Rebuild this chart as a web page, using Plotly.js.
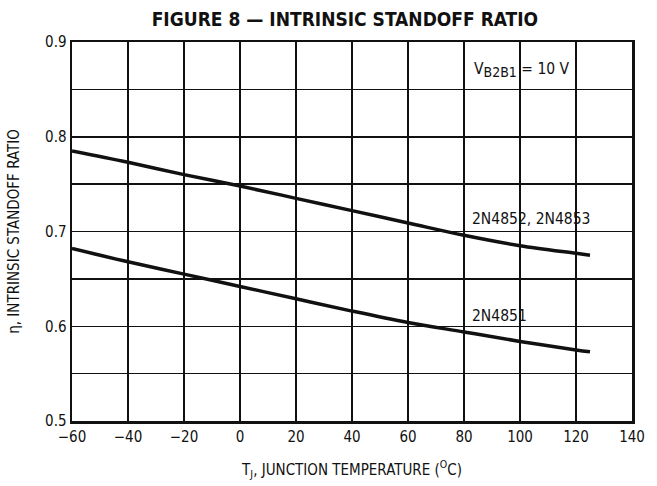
<!DOCTYPE html>
<html>
<head>
<meta charset="utf-8">
<script src="https://cdn.plot.ly/plotly-3.0.1.min.js"></script>
<style>html,body{margin:0;padding:0;background:#fff;}#chart{width:657px;height:486px;}</style>
</head>
<body>
<div id="chart"></div>
<script>
// Data
const tempC = [-60, -40, -20, 0, 20, 40, 60, 80, 100, 120, 125];
const eta_2N4852_2N4853 = [0.785, 0.773, 0.760, 0.748, 0.735, 0.722, 0.709, 0.696, 0.685, 0.677, 0.675];
const eta_2N4851 = [0.682, 0.668, 0.655, 0.642, 0.629, 0.616, 0.604, 0.594, 0.584, 0.575, 0.573];
const xTicks = [-60, -40, -20, 0, 20, 40, 60, 80, 100, 120, 140];
const xTickText = ['\u221260', '\u221240', '\u221220', '0', '20', '40', '60', '80', '100', '120', '140'];
const yTicks = [0.5, 0.6, 0.7, 0.8, 0.9];
const yTickText = ['0.5', '0.6', '0.7', '0.8', '0.9'];
const seriesNames = ['2N4852, 2N4853', '2N4851'];

const FONT = '"Liberation Sans Narrow", "DejaVu Sans Condensed", "Roboto Condensed", "Arial Narrow", sans-serif';

const traces = [
  {x: tempC, y: eta_2N4852_2N4853, name: seriesNames[0], mode: 'lines', line: {color: '#111', width: 3.5, shape: 'spline'}},
  {x: tempC, y: eta_2N4851, name: seriesNames[1], mode: 'lines', line: {color: '#111', width: 3.5, shape: 'spline'}}
];

const layout = {
  width: 657, height: 486,
  margin: {l: 72, r: 25, t: 42, b: 65},
  paper_bgcolor: '#fff', plot_bgcolor: '#fff',
  showlegend: false,
  font: {family: FONT, color: '#111', size: 14},
  title: {text: '<b>FIGURE 8 \u2014 INTRINSIC STANDOFF RATIO</b>', x: 0.525, xanchor: 'center', y: 0.96, yanchor: 'middle', font: {family: FONT, size: 19, color: '#111'}},
  xaxis: {
    range: [-60, 140], tickvals: xTicks, ticktext: xTickText,
    showgrid: true, gridcolor: '#111', gridwidth: 1.5,
    zeroline: true, zerolinecolor: '#111', zerolinewidth: 2.5,
    showline: true, linecolor: '#111', linewidth: 2.5, mirror: true,
    ticks: '', tickfont: {family: FONT, size: 15, color: '#111'},
    title: {text: 'T<sub>J</sub>, JUNCTION TEMPERATURE (<sup>O</sup>C)', font: {family: FONT, size: 15, color: '#111'}, standoff: 20}
  },
  yaxis: {
    range: [0.5, 0.9], tickvals: yTicks, ticktext: yTickText,
    showgrid: true, gridcolor: '#111', gridwidth: 1.5,
    minor: {dtick: 0.05, tick0: 0.5, showgrid: true, gridcolor: '#111', gridwidth: 1.5, ticks: ''},
    zeroline: false,
    showline: true, linecolor: '#111', linewidth: 2.5, mirror: true,
    ticks: '', ticklen: 0, tickfont: {family: FONT, size: 15, color: '#111'},
    title: {text: '\u03b7, INTRINSIC STANDOFF RATIO', font: {family: FONT, size: 15, color: '#111'}, standoff: 22}
  },
  annotations: [
    {x: 82, y: 0.713, xref: 'x', yref: 'y', text: seriesNames[0], showarrow: false, xanchor: 'left', yanchor: 'middle', font: {family: FONT, size: 15.5, color: '#111'}},
    {x: 82, y: 0.611, xref: 'x', yref: 'y', text: seriesNames[1], showarrow: false, xanchor: 'left', yanchor: 'middle', font: {family: FONT, size: 15.5, color: '#111'}},
    {x: 83, y: 0.87, xref: 'x', yref: 'y', text: 'V<sub><span style="font-size:14px">B2B1</span></sub> = 10 V', showarrow: false, xanchor: 'left', yanchor: 'middle', font: {family: FONT, size: 15.5, color: '#111'}}
  ]
};

Plotly.newPlot('chart', traces, layout, {displayModeBar: false, staticPlot: true});
</script>
</body>
</html>
